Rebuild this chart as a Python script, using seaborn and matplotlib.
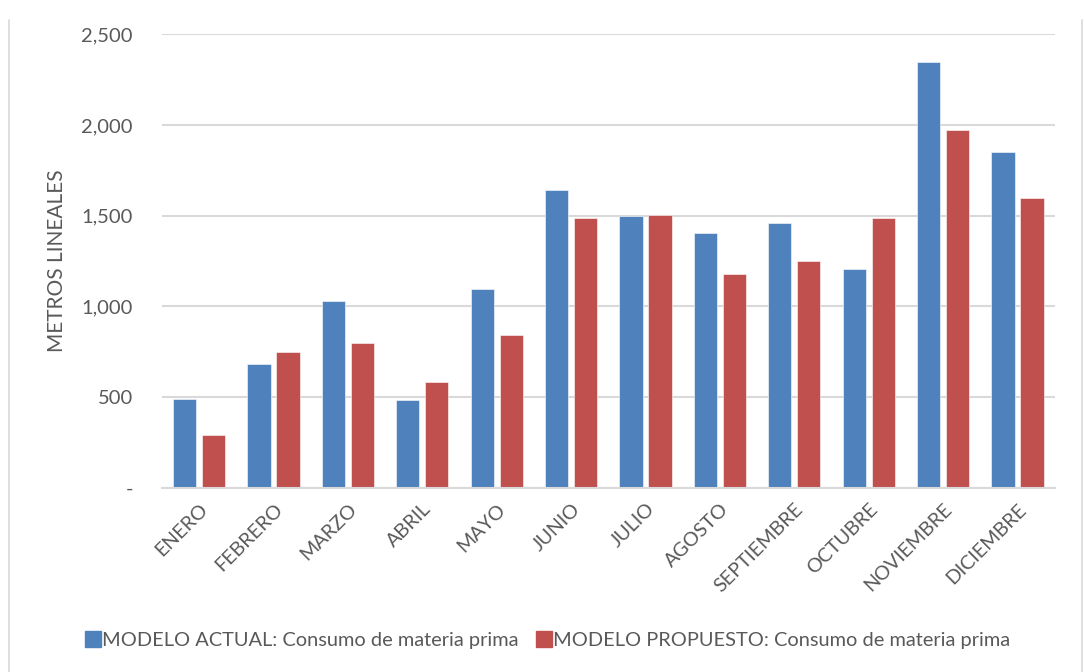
import matplotlib
matplotlib.use("Agg")
import matplotlib.pyplot as plt
from matplotlib.lines import Line2D
from matplotlib.ticker import FuncFormatter
import pandas as pd
import seaborn as sns

months = ["ENERO", "FEBRERO", "MARZO", "ABRIL", "MAYO", "JUNIO", "JULIO",
          "AGOSTO", "SEPTIEMBRE", "OCTUBRE", "NOVIEMBRE", "DICIEMBRE"]
actual = [489, 682, 1029, 485, 1098, 1640, 1501, 1402, 1462, 1205, 2349, 1853]
propuesto = [294, 750, 801, 586, 841, 1486, 1506, 1176, 1249, 1488, 1975, 1596]
series_names = ["MODELO ACTUAL: Consumo de materia prima",
                "MODELO PROPUESTO: Consumo de materia prima"]
y_ticks = [0, 500, 1000, 1500, 2000, 2500]

df = pd.DataFrame({
    "mes": months * 2,
    "valor": actual + propuesto,
    "serie": [series_names[0]] * len(months) + [series_names[1]] * len(months),
})

sns.set_theme(style="white")
plt.rcParams["font.family"] = ["Lato", "DejaVu Sans"]
text_color = "#595959"
grid_color = "#d9d9d9"
palette = {series_names[0]: "#4F81BD", series_names[1]: "#C0504D"}

fig = plt.figure(figsize=(10.84, 6.72), dpi=100)
ax = fig.add_axes([0.1494, 0.274, 0.8236, 0.675])

sns.barplot(data=df, x="mes", y="valor", hue="serie", order=months,
            hue_order=series_names, palette=palette, width=0.78, gap=0.2,
            edgecolor="white", linewidth=0.4, saturation=1, ax=ax, legend=False)

ax.set_ylim(0, 2500)
ax.set_xlim(-0.5, len(months) - 0.5)
ax.set_yticks(y_ticks)
ax.yaxis.set_major_formatter(FuncFormatter(lambda v, p: "-" if v == 0 else f"{v:,.0f}"))
ax.yaxis.grid(True, color=grid_color, linewidth=1.5)
ax.set_axisbelow(True)
for side in ["left", "right", "top"]:
    ax.spines[side].set_visible(False)
ax.spines["bottom"].set_color(grid_color)
ax.spines["bottom"].set_linewidth(1.5)
ax.tick_params(axis="y", length=0, pad=21, labelsize=14.5, labelcolor=text_color)
ax.tick_params(axis="x", length=0, pad=9, labelsize=14.2, labelcolor=text_color)
for lbl in ax.get_xticklabels():
    lbl.set_rotation(45)
    lbl.set_ha("right")
    lbl.set_va("top")
    lbl.set_rotation_mode("anchor")
ax.set_xlabel("")
ax.set_ylabel("METROS LINEALES", fontsize=15, color=text_color, labelpad=10)

handles = [Line2D([], [], marker="s", linestyle="none", markersize=11,
                  markerfacecolor=palette[n], markeredgecolor=palette[n]) for n in series_names]
fig.legend(handles, series_names, loc="center", bbox_to_anchor=(0.505, 0.047),
           ncol=2, frameon=False, fontsize=14.4, labelcolor=text_color,
           handletextpad=0.05, columnspacing=0.9, handlelength=0.8)

# chart-area frame edges
for xpos in (8.5 / 1084, 1081.5 / 1084):
    fig.add_artist(Line2D([xpos, xpos], [0, 1 - 20 / 672], transform=fig.transFigure,
                          color=grid_color, linewidth=1.2))

fig.savefig("out.png", dpi=100, facecolor="white")
